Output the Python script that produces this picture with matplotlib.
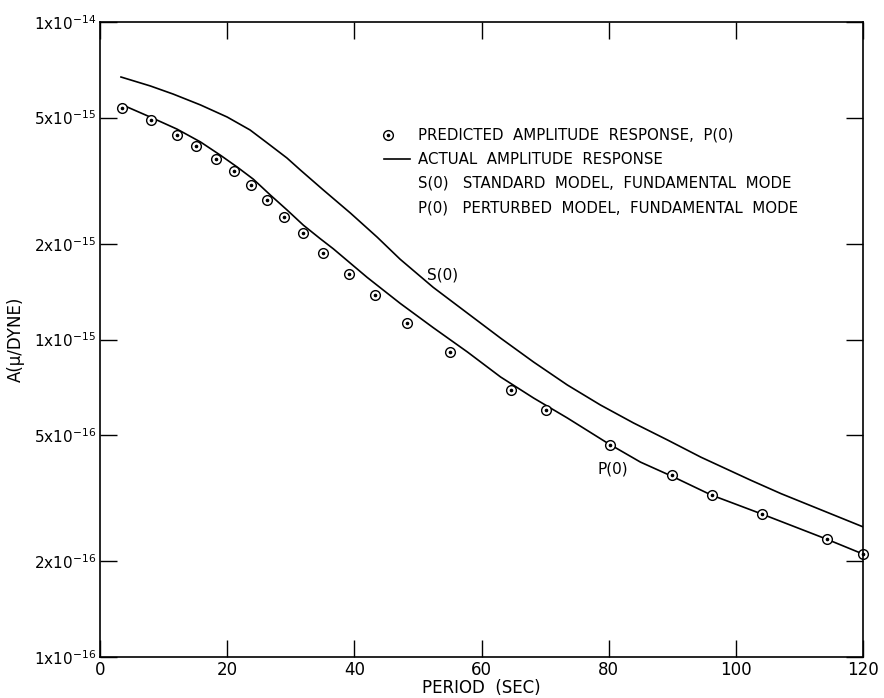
import numpy as np
import matplotlib
matplotlib.use("Agg")
import matplotlib.pyplot as plt
from matplotlib.ticker import FixedLocator, NullLocator

plt.rcParams.update({"font.family": "DejaVu Sans", "font.size": 10})

# S(0): standard model, actual amplitude response
s_period = [3.3, 7.9, 11.5, 15.8, 20.0, 23.6, 26.3, 29.4, 31.5, 35.1, 39.4, 43.6, 47.2,
            52.4, 57.8, 63.0, 68.2, 73.5, 78.7, 83.9, 89.3, 94.5, 102.4, 107.1, 120.0]
s_amp = [6.71e-15, 6.29e-15, 5.93e-15, 5.48e-15, 5.02e-15, 4.57e-15, 4.16e-15, 3.73e-15,
         3.42e-15, 2.96e-15, 2.50e-15, 2.10e-15, 1.79e-15, 1.46e-15, 1.21e-15, 1.01e-15,
         8.49e-16, 7.19e-16, 6.22e-16, 5.46e-16, 4.82e-16, 4.26e-16, 3.60e-16, 3.27e-16,
         2.57e-16]

# P(0): perturbed model, actual amplitude response
p_period = [3.9, 7.9, 12.1, 15.8, 18.9, 21.6, 24.1, 26.8, 29.4, 32.0, 34.6, 36.7, 42.0,
            47.2, 52.4, 57.8, 63.0, 68.2, 73.5, 79.8, 85.0, 90.2, 96.1, 104.1, 114.3, 120.0]
p_amp = [5.44e-15, 5.02e-15, 4.60e-15, 4.19e-15, 3.81e-15, 3.49e-15, 3.20e-15, 2.85e-15,
         2.56e-15, 2.29e-15, 2.08e-15, 1.93e-15, 1.57e-15, 1.30e-15, 1.09e-15, 9.13e-16,
         7.62e-16, 6.54e-16, 5.66e-16, 4.72e-16, 4.11e-16, 3.69e-16, 3.24e-16, 2.82e-16,
         2.35e-16, 2.11e-16]

# predicted amplitude response, P(0)
pred_period = [3.5, 8.0, 12.1, 15.1, 18.3, 21.1, 23.8, 26.3, 29.0, 32.0, 35.1, 39.1,
               43.3, 48.3, 55.0, 64.7, 70.1, 80.2, 89.9, 96.2, 104.1, 114.3, 120.0]
pred_amp = [5.36e-15, 4.91e-15, 4.40e-15, 4.07e-15, 3.70e-15, 3.40e-15, 3.07e-15,
            2.75e-15, 2.43e-15, 2.17e-15, 1.87e-15, 1.61e-15, 1.38e-15, 1.13e-15,
            9.13e-16, 6.93e-16, 6.00e-16, 4.65e-16, 3.74e-16, 3.24e-16, 2.82e-16,
            2.35e-16, 2.11e-16]

xticks = [0, 20, 40, 60, 80, 100, 120]
yticks = [1e-16, 2e-16, 5e-16, 1e-15, 2e-15, 5e-15, 1e-14]
ylabels = ["1x10$^{-16}$", "2x10$^{-16}$", "5x10$^{-16}$", "1x10$^{-15}$",
           "2x10$^{-15}$", "5x10$^{-15}$", "1x10$^{-14}$"]
legend_text = ["PREDICTED  AMPLITUDE  RESPONSE,  P(0)",
               "ACTUAL  AMPLITUDE  RESPONSE",
               "S(0)   STANDARD  MODEL,  FUNDAMENTAL  MODE",
               "P(0)   PERTURBED  MODEL,  FUNDAMENTAL  MODE"]

fig = plt.figure(figsize=(8.84, 6.98), dpi=100)
ax = fig.add_axes([100 / 884, 1 - 657 / 698, 763 / 884, 635 / 698])
ax.set_yscale("log")
ax.set_xlim(0, 120)
ax.set_ylim(1e-16, 1e-14)

ax.plot(s_period, s_amp, color="k", lw=1.2)
ax.plot(p_period, p_amp, color="k", lw=1.2)
ax.plot(pred_period, pred_amp, "o", ms=7, mfc="white", mec="k", mew=1.0, clip_on=False)
ax.plot(pred_period, pred_amp, "o", ms=1.6, color="k", clip_on=False)

ax.text(51.5, 1.60e-15, "S(0)", fontsize=11, va="center", ha="left")
ax.text(78.3, 3.90e-16, "P(0)", fontsize=11, va="center", ha="left")

# legend block
ly = [0.822, 0.784, 0.746, 0.707]
for t, y in zip(legend_text, ly):
    ax.text(0.417, y, t, transform=ax.transAxes, fontsize=10.8, va="center", ha="left")
ax.plot([0.377], [ly[0]], "o", ms=7, mfc="white", mec="k", mew=1.0, transform=ax.transAxes)
ax.plot([0.377], [ly[0]], "o", ms=1.6, color="k", transform=ax.transAxes)
ax.plot([0.372, 0.406], [ly[1], ly[1]], color="k", lw=1.2, transform=ax.transAxes)

ax.xaxis.set_major_locator(FixedLocator(xticks))
ax.set_xticklabels([str(v) for v in xticks], fontsize=12)
ax.yaxis.set_major_locator(FixedLocator(yticks))
ax.yaxis.set_minor_locator(NullLocator())
ax.set_yticklabels(ylabels, fontsize=11)
ax.tick_params(direction="in", length=12, width=1.0, top=True, right=True, pad=3)
for s in ax.spines.values():
    s.set_linewidth(1.2)

ax.set_xlabel("PERIOD  (SEC)", fontsize=12, labelpad=0)
ax.set_ylabel("A(\u03bc/DYNE)", fontsize=12, labelpad=6)

fig.savefig("out.png", dpi=100)
